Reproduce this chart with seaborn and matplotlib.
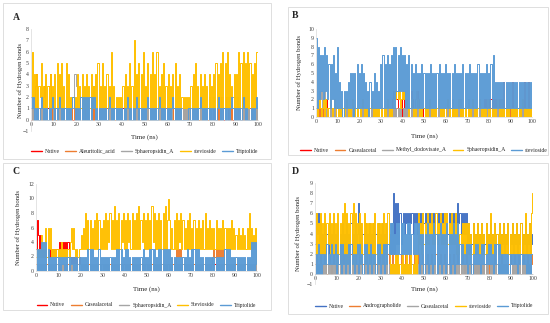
import numpy as np
import pandas as pd
import matplotlib
matplotlib.use("Agg")
import matplotlib.pyplot as plt
import seaborn as sns
from matplotlib.patches import Rectangle
from matplotlib.lines import Line2D

# hydrogen-bond counts, one digit per 0.5 ns (hex, 'a' = 10)
A_native = ["01013401101230113410", "10101001010110101001", "01001010100101010100",
            "10100101010010101001", "01010010101010010101", "10100101010100101010",
            "01010010101001010100", "01010101001010100101", "10101001210121010101",
            "01010010101001010101", "0"]
A_aleur = ["10100110101011001010", "01010100110101010101", "10101001010110101010",
           "01010101010101010101", "10101010101010101010", "01010101010101010101",
           "10101010101001010101", "01010101010101010101", "10101010121012101010",
           "01010101210101010101", "0"]
A_sphaer = ["10100101010110101011", "01101010100101102144", "31101010010101231010",
            "01010100101010101010", "10101010101001010101", "01010101010101001010",
            "10101001010101010101", "01010100101010101201", "12101210121012122120",
            "10210120101010001010", "1"]
A_stevio = ["26141413251314131413", "14151415131514121212", "14131413141314131415",
            "13151314131613121212", "13141315131714151416", "13151416141613141513",
            "14131415131412121212", "13141513141314131413", "14151415161516141314",
            "14161516151615141516", "6"]
A_tripto = ["21201010121010101012", "10101210101010101210", "10102020202020212010",
            "10101010121010101010", "10101210101012101010", "10121010101012101010",
            "10101210101010000001", "10101010121010101010", "10101210101010101210",
            "10101012101000101012", "1"]

B_native = ["01010101012101010101", "10101010101010101010", "01010101010101010101",
            "10101010101232321010", "23101010321010321010", "10101010101010101010",
            "01010101010101010101", "10101010101010102121", "20212021202101410101",
            "01410101010104101410", "1"]
B_casea = ["10101010101010101010", "01010101010101010101", "10101010101010101010",
           "01010101010101010101", "10101010101023221010", "01010101010101010101",
           "10101010101010101010", "01010101010101010101", "10101010122121010101",
           "01010101010101010101", "0"]
B_methyl = ["01232312310101010101", "10101010101010101010", "01010101010101010101",
            "10101010101010101010", "01010101010101010101", "10101010101010101010",
            "01010121010101210101", "12101010101010101010", "01010101010101010101",
            "10101010101010101010", "1"]
B_sphaer = ["10121012021012101210", "01010101210101210101", "10121010101210101010",
            "01010121010123232312", "32312101210101210101", "10101210101012101010",
            "01210101010121010101", "10101210101210101012", "01010101210101010101",
            "10101010101210101010", "1"]
B_stevio = ["91827372837261627151", "81413031314151505161", "51615141304131514131",
            "61716171617181837383", "73716171615161515161", "51515161515151615151",
            "61515151615151516151", "51615151516151515161", "51617141414141414141",
            "41414141414141414141", "4"]

C_native = ["37535323232323232323", "34343434343212121212", "10101010101010101010",
            "01010101010101010101", "10101010101010101010", "01010101010101010101",
            "10101010101010101010", "01010101010101010101", "10101010101010101010",
            "01010101010101010101", "0"]
C_casea = ["10101010101010101010", "01010101010101010101", "10101010101010101010",
           "01010101010101010101", "10101010101010101010", "01010101010101010101",
           "10101013232321010101", "01010101010101010101", "23232323232101010101",
           "01010101010101010101", "1"]
C_sphaer = ["01010101010101010101", "10101010101010101010", "01010101010101010101",
            "10101010101010101010", "01010101010101010101", "10101010101010101010",
            "01010101010101010101", "10101010101010101010", "01010101010101010101",
            "10101010101010101010", "1"]
C_stevio = ["23232523262636232323", "23242323232463632323", "35363837373637383736",
            "37383748373937383748", "37384738373839374837", "38373948373837383937",
            "a7363738374837363738", "36373637363738363736", "36373636373636363736",
            "35363536353638363536", "1"]
C_tripto = ["03030404040302020202", "02021202020212020202", "02020203030302020302",
            "02020202020203030302", "03030202020202020302", "02030303020303030303",
            "03020202020202020302", "03030303020202020202", "02020202020303030202",
            "02020202020202040404", "1"]

D_native = ["36462524252425242524", "25242524252425242524", "72524252425242524252",
            "42524252425282737363", "56465646564656465646", "56565656565656565656",
            "56465646564756464646", "35243524352435243524", "35243524352435243524",
            "35243524352435243524", "3"]
D_andro = ["12101210121012101210", "12121212121212101210", "12121012101210121012",
           "10121012101210121012", "10121012101210121012", "10121012101210121012",
           "10121012101210121012", "01010101010110101010", "10101210101210101012",
           "10121012101210121012", "1"]
D_casea = ["01010101010101010101", "10101010101010101010", "01010101010101010101",
           "10101010101010101010", "01010101010101010101", "10101010101010101010",
           "01010101010101010101", "10101010101010101010", "01010101010101010101",
           "10101010101010101010", "0"]
D_stevio = ["26252625262536252625", "16251627161526171625", "26152615251525162515",
            "25162516201010202010", "20102010201020263526", "35363546353635463536",
            "36353635362524252525", "25242524252425242524", "26242524252425242524",
            "25242524252426242526", "8"]
D_tripto = ["02030202121312131213", "02130312021303120213", "03120313021302120313",
            "02130313252524252525", "25242525242525250414", "04150414051404150414",
            "05140415041513131213", "03130213131203131213", "13120313030202020202",
            "12121202121212020202", "2"]

times = lambda v: np.linspace(0, 100, len(v))


def parse(segs):
    return [int(c, 16) for c in "".join(segs)]


RED, ORANGE, GRAY, GOLD, BLUE, NAVY = "#FF0000", "#ED7D31", "#A5A5A5", "#FFC000", "#5B9BD5", "#4472C4"

panels = [
    dict(letter="A", rect=(31, 29, 258, 131), ylim=(-1, 8), yticks=range(-1, 9),
         names=["Native", "Aleuritolic_acid", "Sphaeropsidin_A", "stevioside", "Triptolide"],
         series=[A_native, A_aleur, A_sphaer, A_stevio, A_tripto],
         colors=[RED, ORANGE, GRAY, GOLD, BLUE], ylabel="Number of Hydrogen bonds",
         border=(3, 3, 271, 159), letter_xy=(16, 17), xlab_y=137, leg_y=151, ylab_x=20),
    dict(letter="B", rect=(316, 29, 532, 117), ylim=(0, 10), yticks=range(0, 11),
         names=["Native", "Casealacetal", "Methyl_dodovisate_A", "Sphaeropsidin_A", "stevioside"],
         series=[B_native, B_casea, B_methyl, B_sphaer, B_stevio],
         colors=[RED, ORANGE, GRAY, GOLD, BLUE], ylabel="Number of Hydrogen bonds",
         border=(288, 7, 548, 155), letter_xy=(295, 16), xlab_y=136, leg_y=150, ylab_x=299),
    dict(letter="C", rect=(36, 184, 257, 271), ylim=(0, 12), yticks=range(0, 13, 2),
         names=["Native", "Casealacetal", "Sphaeropsidin_A", "Stevioside", "Triptolide"],
         series=[C_native, C_casea, C_sphaer, C_stevio, C_tripto],
         colors=[RED, ORANGE, GRAY, GOLD, BLUE], ylabel="Number of Hydrogen bonds",
         border=(3, 163, 271, 310), letter_xy=(16, 171), xlab_y=289, leg_y=305, ylab_x=18),
    dict(letter="D", rect=(315, 183, 533, 284), ylim=(-1, 9), yticks=range(-1, 10),
         names=["Native", "Andrographolide", "Casealacetal", "stevioside", "Triptolide"],
         series=[D_native, D_andro, D_casea, D_stevio, D_tripto],
         colors=[NAVY, ORANGE, GRAY, GOLD, BLUE], ylabel="Number of Hydrogen bonds",
         border=(288, 163, 548, 314), letter_xy=(295, 171), xlab_y=289, leg_y=306, ylab_x=298),
]

W, H = 550, 323
sns.set_style("white")
plt.rcParams["font.family"] = ["Liberation Serif", "DejaVu Serif"]
fig = plt.figure(figsize=(W / 100, H / 100), dpi=100)

for p in panels:
    x0, y0, x1, y1 = p["rect"]
    ax = fig.add_axes([x0 / W, 1 - y1 / H, (x1 - x0) / W, (y1 - y0) / H])
    for name, segs, col in zip(p["names"], p["series"], p["colors"]):
        vals = parse(segs)
        df = pd.DataFrame({"t": times(vals), "n": vals})
        sns.lineplot(data=df, x="t", y="n", color=col, lw=0.7, ax=ax,
                     estimator=None, legend=False, drawstyle="steps-mid")
    ax.set_xlim(0, 100)
    ax.set_ylim(*p["ylim"])
    ax.set_xticks(range(0, 101, 10))
    ax.set_yticks(list(p["yticks"]))
    ax.tick_params(labelsize=4.2, length=0, pad=1.5, colors="#404040")
    for s in ["top", "right"]:
        ax.spines[s].set_visible(False)
    for s in ["left", "bottom"]:
        ax.spines[s].set_color("#D9D9D9")
        ax.spines[s].set_linewidth(0.5)
    # horizontal axis crosses at 0, labels sit right under it
    ax.spines["bottom"].set_position(("data", 0))
    ax.set_xlabel("")
    ax.set_ylabel("")
    ax.patch.set_alpha(0)

    cx = (x0 + x1) / 2 / W
    fig.text(cx, 1 - p["xlab_y"] / H, "Time (ns)", ha="center", va="center", fontsize=5)
    fig.text(p["ylab_x"] / W, 1 - (y0 + y1) / 2 / H, p["ylabel"], rotation=90,
             ha="center", va="center", fontsize=4.8)
    lx, ly = p["letter_xy"]
    fig.text(lx / W, 1 - ly / H, p["letter"], ha="center", va="center",
             fontsize=7, fontweight="bold")
    handles = [Line2D([], [], color=c, lw=1.0) for c in p["colors"]]
    bx0, by0, bx1, by1 = p["border"]
    fig.legend(handles, p["names"], loc="center", ncol=5, frameon=False,
               bbox_to_anchor=(cx, 1 - p["leg_y"] / H),
               fontsize=4.1, handlelength=1.9, columnspacing=1.0, handletextpad=0.5)
    fig.patches.append(Rectangle((bx0 / W, 1 - by1 / H), (bx1 - bx0) / W, (by1 - by0) / H,
                                 transform=fig.transFigure, fill=False,
                                 ec="#D9D9D9", lw=0.6))

fig.savefig("out.png", dpi=100)
